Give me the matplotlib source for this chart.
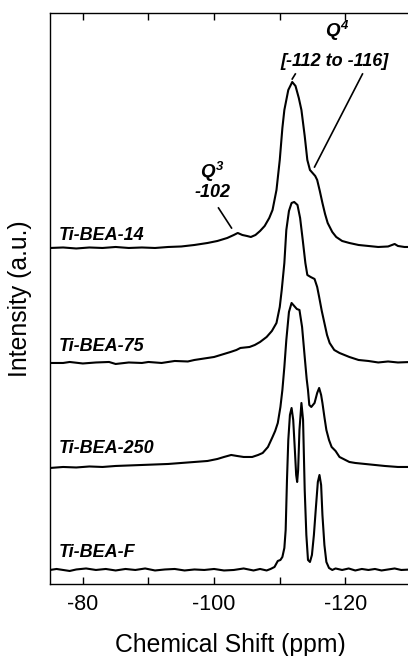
import matplotlib
matplotlib.use("Agg")
import matplotlib.pyplot as plt
import numpy as np

plt.rcParams['font.family'] = 'Liberation Sans'
plt.rcParams['axes.unicode_minus'] = False
plt.rcParams['mathtext.fontset'] = 'custom'
plt.rcParams['mathtext.it'] = 'Liberation Sans:bold:italic'
plt.rcParams['mathtext.rm'] = 'Liberation Sans:bold:italic'
plt.rcParams['mathtext.bf'] = 'Liberation Sans:bold:italic'

# 29Si MAS NMR spectra (height above each baseline, a.u.)
ppm_14 = [-75, -77, -79, -81, -83, -85, -87, -89, -91, -93, -95, -97, -99, -100.5, -102, -103, -103.6,
          -104.3, -105, -105.6, -106.3, -107, -107.7, -108.4, -108.9, -109.5, -110, -110.4, -110.7,
          -111.3, -111.9, -112.4, -112.9, -113.3, -113.8, -114.2, -114.6, -115.0, -115.4, -115.7,
          -116.1, -116.5, -116.9, -117.3, -118, -118.6, -119.5, -120.6, -122, -123.5, -125, -126.5,
          -127.5, -128, -129, -130]
int_14 = [0, 0.5, -0.5, 0.5, 0, 1, 0, 0.5, 0, 1, 1.5, 3, 5, 7, 10, 13, 15,
          13, 12, 11, 13, 17, 22, 30, 38, 58, 88, 120, 138,
          158, 166, 162, 150, 138, 112, 88, 78, 75, 72, 68,
          57, 45, 34, 25, 16, 11, 7, 5, 3, 2, 1, 1.5,
          4, 2, 1, 1]

ppm_75 = [-75, -77, -78, -80, -82, -84, -85, -87, -89, -90, -92, -94, -96, -97, -99, -100, -101.5,
          -102.5, -103.4, -104, -105.4, -106.2, -107, -108, -108.8, -109.5, -110, -110.3, -110.7,
          -111, -111.4, -111.8, -112.2, -112.7, -113.1, -113.5, -113.9, -114.2, -114.7, -115.3,
          -115.7, -116, -116.4, -116.8, -117.2, -117.6, -118.3, -119.1, -120.6, -122, -123.5, -125,
          -126.5, -128, -130]
int_75 = [0, 0, 1, -0.5, 0.5, 1, -1, 0.5, 0, 1, 0, 2, 1.5, 3, 5, 6, 9,
          11, 13, 15, 16, 18, 21, 26, 32, 40, 56, 73, 100,
          133, 152, 160, 161, 158, 145, 123, 100, 88, 86, 84,
          76, 66, 52, 40, 28, 20, 13, 10, 6, 3, 2, 0.5,
          1.5, 0.5, 1]

ppm_250 = [-75, -77, -79, -81, -83, -85, -87, -89, -91, -93, -95, -97, -99, -100.5, -101.5, -102.6,
           -103.5, -104.5, -105.8, -106.7, -107.4, -108.2, -108.9, -109.3, -109.7, -110.1, -110.4,
           -110.7, -111, -111.4, -111.8, -112.2, -112.6, -113, -113.4, -113.8, -114.1, -114.3, -114.5,
           -114.8, -115.3, -115.7, -116, -116.3, -116.5, -116.8, -117.1, -117.5, -117.9, -118.5,
           -119.1, -120, -120.6, -121.5, -123, -124.5, -126, -128, -130]
int_250 = [-1, 0, -0.5, 0.5, 0, 1, 1.5, 2, 2.5, 3, 4, 5, 6, 8, 10, 12,
           11, 10, 10, 12, 14, 20, 30, 36, 44, 60, 77,
           100, 127, 155, 164, 161, 158, 157, 140, 110, 88, 77, 62,
           60, 64, 74, 79, 72, 64, 50, 37, 27, 20, 16,
           10, 7, 5, 4, 3, 2, 1, 0, 0]

ppm_F = [-75, -76, -77, -78, -79, -80.5, -82, -83.5, -85, -86.5, -88, -89.5, -91, -92.5, -94, -95.5,
         -97, -98.5, -100, -101.5, -103, -104.5, -106, -107, -108, -108.6, -109.2, -109.7, -110.1,
         -110.4, -110.7, -110.9, -111.1, -111.3, -111.55, -111.8, -112.05, -112.3, -112.5, -112.65,
         -112.8, -113.0, -113.3, -113.55, -113.8, -114.05, -114.3, -114.6, -114.9, -115.2, -115.5,
         -115.8, -116.05, -116.3, -116.5, -116.8, -117.1, -117.5, -118, -118.5, -119.5, -120.5,
         -121.5, -122.5, -123.5, -124.5, -125.5, -126.5, -127.5, -128.5, -130]
int_F = [0, 1, 0, -1, 0.5, 1.5, 0, 1, -0.5, 1, 0, 1.5, -0.5, 0.5, 1, -0.5,
         0.5, 0, 1, -0.5, 0, 1.5, -0.5, 1, -0.5, 1, 3, 9, 10,
         13, 22, 40, 90, 130, 155, 162, 150, 120, 95, 88,
         100, 140, 167, 150, 80, 35, 10, 8, 15, 35, 62,
         88, 95, 85, 55, 25, 8, 2, 0, 1.5, 0, 1.5,
         -0.5, 1, 0, 1, -0.5, 0.5, 1.5, 0, 0.5]

names = ['Ti-BEA-14', 'Ti-BEA-75', 'Ti-BEA-250', 'Ti-BEA-F']
offsets = [336, 221, 117, 14]
label_y = [348, 237, 135, 31]

fig = plt.figure(figsize=(4.08, 6.56), dpi=100)
ax = fig.add_axes([0.1225, 0.1098, 0.885, 0.8704])

for x, y, off in zip([ppm_14, ppm_75, ppm_250, ppm_F], [int_14, int_75, int_250, int_F], offsets):
    ax.plot(x, np.array(y) + off, color='k', lw=1.5)

for name, ly in zip(names, label_y):
    ax.text(-76.4, ly, name, fontsize=13, fontweight='bold', fontstyle='italic', ha='left', va='center')

# peak assignments
ax.text(-99.8, 412, r'$Q^3$', fontsize=13.5, ha='center', va='center')
ax.text(-99.8, 391, '-102', fontsize=13, fontweight='bold', fontstyle='italic', ha='center', va='center')
ax.plot([-100.67, -102.65], [376, 356], color='k', lw=1.2)
ax.text(-118.8, 553, r'$Q^4$', fontsize=13.5, ha='center', va='center')
ax.text(-118.3, 522, '[-112 to -116]', fontsize=13, fontweight='bold', fontstyle='italic', ha='center', va='center')
ax.plot([-112.37, -111.9], [510, 505], color='k', lw=1.2)
ax.plot([-122.6, -115.3], [510, 417], color='k', lw=1.2)

ax.set_xlim(-75, -130)
ax.set_ylim(0, 571)
ax.set_xticks([-80, -100, -120])
ax.set_xticks([-90, -110, -130], minor=True)
ax.set_yticks([])
ax.tick_params(axis='x', which='both', direction='in', top=True, length=5, width=1, labelsize=15.5, pad=7)
for s in ax.spines.values():
    s.set_linewidth(1.0)
ax.set_xlabel('Chemical Shift (ppm)', fontsize=17.8, labelpad=13)
ax.set_ylabel('Intensity (a.u.)', fontsize=17.8, labelpad=13)

plt.savefig('out.png', dpi=100)
